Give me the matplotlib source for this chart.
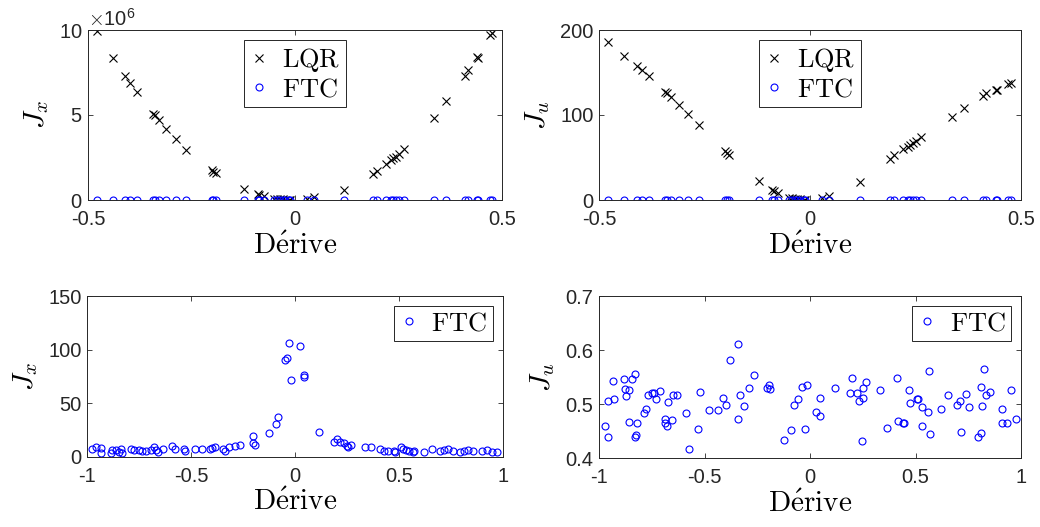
import matplotlib
matplotlib.use("Agg")
import matplotlib.pyplot as plt
from matplotlib.ticker import ScalarFormatter

plt.rcParams['font.family'] = ['Liberation Sans', 'DejaVu Sans']
plt.rcParams['mathtext.fontset'] = 'cm'

# ---- Top panels: derive values (shared) ----
derive_top = [-0.478, -0.440, -0.411, -0.399, -0.382, -0.343, -0.339, -0.329, -0.311, -0.288,
              -0.263, -0.201, -0.197, -0.192, -0.122, -0.090, -0.086, -0.076, -0.050, -0.043,
              -0.036, -0.030, -0.023, -0.015, -0.011, 0.028, 0.046, 0.118, 0.189, 0.199,
              0.220, 0.232, 0.237, 0.244, 0.252, 0.263, 0.336, 0.365, 0.411, 0.417,
              0.440, 0.442, 0.470, 0.477]
lqr_jx = [9.96e6, 8.37e6, 7.31e6, 6.90e6, 6.33e6, 5.06e6, 4.98e6, 4.70e6, 4.20e6, 3.60e6,
          2.96e6, 1.74e6, 1.67e6, 1.60e6, 0.63e6, 0.33e6, 0.29e6, 0.26e6, 0.08e6, 0.06e6,
          0.05e6, 0.03e6, 0.02e6, 0.01e6, 0.005e6, 0.04e6, 0.16e6, 0.59e6, 1.53e6, 1.72e6,
          2.12e6, 2.35e6, 2.45e6, 2.55e6, 2.70e6, 3.00e6, 4.84e6, 5.82e6, 7.27e6, 7.65e6,
          8.39e6, 8.33e6, 9.70e6, 9.84e6]
lqr_ju = [186, 170, 158, 153, 146, 127, 126, 121, 112, 101,
          88.6, 57.3, 55, 53, 22.7, 11.8, 10.5, 8.6, 2.4, 2.0,
          1.5, 1.2, 0.8, 0.5, 0.3, 2.0, 4.7, 20.8, 48.6, 53,
          59.6, 62.7, 64.5, 66.7, 69, 73.8, 97.6, 108.6, 122, 125.5,
          129.4, 129.0, 137, 137.5]
ftc_jx_top = [0, 0, 0, 0, 0, 0, 0, 0, 0, 0, 0, 0, 0, 0, 0, 0, 0, 0, 0, 0, 0, 0,
              0, 0, 0, 0, 0, 0, 0, 0, 0, 0, 0, 0, 0, 0, 0, 0, 0, 0, 0, 0, 0, 0]
ftc_ju_top = [0, 0, 0, 0, 0, 0, 0, 0, 0, 0, 0, 0, 0, 0, 0, 0, 0, 0, 0, 0, 0, 0,
              0, 0, 0, 0, 0, 0, 0, 0, 0, 0, 0, 0, 0, 0, 0, 0, 0, 0, 0, 0, 0, 0]

# ---- Bottom-left: FTC Jx ----
derive_bl = [-0.974, -0.957, -0.935, -0.934, -0.883, -0.878, -0.862, -0.846, -0.838, -0.830,
             -0.790, -0.774, -0.750, -0.734, -0.715, -0.692, -0.678, -0.670, -0.657, -0.635,
             -0.593, -0.578, -0.535, -0.529, -0.482, -0.446, -0.410, -0.398, -0.386, -0.345,
             -0.338, -0.317, -0.288, -0.264, -0.204, -0.201, -0.192, -0.123, -0.093, -0.083,
             -0.048, -0.037, -0.030, -0.017, 0.026, 0.043, 0.043, 0.117, 0.188, 0.204,
             0.217, 0.234, 0.248, 0.253, 0.267, 0.337, 0.365, 0.410, 0.429, 0.449,
             0.475, 0.483, 0.510, 0.518, 0.534, 0.550, 0.566, 0.574, 0.622, 0.657,
             0.699, 0.715, 0.737, 0.758, 0.795, 0.814, 0.830, 0.854, 0.900, 0.924,
             0.948, 0.972]
ftc_jx = [7.2, 9.0, 8.1, 4.0, 4.0, 6.5, 6.5, 5.0, 7.2, 3.4,
          7.2, 6.5, 6.5, 5.9, 5.9, 6.5, 9.0, 6.5, 5.0, 7.2,
          10.2, 7.8, 7.2, 5.3, 7.2, 7.2, 7.2, 8.1, 9.0, 7.2,
          5.3, 9.6, 10.2, 10.9, 19.6, 13.3, 10.9, 22.1, 30.4, 37.6,
          90.4, 92.5, 106.5, 71.7, 103.7, 76.4, 74.3, 23.0, 13.7, 16.8,
          13.7, 12.7, 10.5, 9.6, 11.5, 9.0, 9.0, 7.2, 5.9, 5.9,
          5.9, 4.7, 9.6, 7.2, 6.5, 5.6, 4.7, 5.3, 5.0, 7.2,
          5.6, 6.5, 7.5, 5.3, 4.4, 5.9, 6.5, 5.9, 5.6, 6.5,
          5.0, 4.4]

# ---- Bottom-right: FTC Ju ----
derive_br = [-0.972, -0.956, -0.959, -0.932, -0.929, -0.880, -0.875, -0.874, -0.858, -0.856,
             -0.845, -0.828, -0.829, -0.825, -0.818, -0.787, -0.776, -0.766, -0.749, -0.739,
             -0.728, -0.711, -0.689, -0.687, -0.676, -0.673, -0.654, -0.648, -0.632, -0.588,
             -0.573, -0.529, -0.521, -0.477, -0.436, -0.412, -0.400, -0.381, -0.341, -0.341,
             -0.330, -0.313, -0.289, -0.264, -0.205, -0.194, -0.188, -0.123, -0.091, -0.076,
             -0.055, -0.039, -0.013, -0.024, 0.027, 0.046, 0.047, 0.117, 0.190, 0.201,
             0.221, 0.234, 0.246, 0.250, 0.253, 0.265, 0.332, 0.366, 0.411, 0.417,
             0.439, 0.444, 0.471, 0.474, 0.506, 0.513, 0.529, 0.529, 0.561, 0.564,
             0.569, 0.619, 0.653, 0.695, 0.712, 0.716, 0.738, 0.755, 0.795, 0.810,
             0.812, 0.817, 0.825, 0.836, 0.855, 0.909, 0.911, 0.934, 0.953, 0.976]
ftc_ju = [0.459, 0.439, 0.506, 0.543, 0.510, 0.547, 0.528, 0.515, 0.526, 0.467,
          0.547, 0.555, 0.439, 0.442, 0.465, 0.483, 0.491, 0.517, 0.520, 0.520,
          0.510, 0.525, 0.473, 0.465, 0.460, 0.504, 0.470, 0.516, 0.516, 0.484,
          0.416, 0.453, 0.523, 0.489, 0.489, 0.511, 0.499, 0.581, 0.611, 0.473,
          0.517, 0.497, 0.530, 0.553, 0.530, 0.535, 0.528, 0.433, 0.452, 0.498,
          0.509, 0.532, 0.536, 0.453, 0.485, 0.478, 0.512, 0.530, 0.520, 0.548,
          0.520, 0.505, 0.432, 0.530, 0.511, 0.540, 0.526, 0.455, 0.549, 0.468,
          0.465, 0.465, 0.526, 0.502, 0.509, 0.509, 0.495, 0.460, 0.485, 0.562,
          0.444, 0.491, 0.517, 0.499, 0.505, 0.448, 0.519, 0.494, 0.439, 0.447,
          0.531, 0.496, 0.564, 0.517, 0.523, 0.490, 0.465, 0.464, 0.526, 0.473]

AX_COLOR = '#262626'
TICK_FS = 14.5
XLABEL_FS = 21
YLABEL_FS = 21
LEG_FS = 19

fig = plt.figure(figsize=(10.4, 5.27), dpi=100)
W, H = 1040, 527

def make_ax(x0, x1, y0, y1):
    return fig.add_axes([x0 / W, (H - y1) / H, (x1 - x0) / W, (y1 - y0) / H])

ax1 = make_ax(88, 502, 30, 200)
ax2 = make_ax(599, 1021, 30, 200)
ax3 = make_ax(87, 503, 296, 457)
ax4 = make_ax(599, 1021, 296, 458)

def style(ax):
    for s in ax.spines.values():
        s.set_color(AX_COLOR)
        s.set_linewidth(0.7)
    ax.tick_params(direction='in', length=3.5, width=0.6, colors=AX_COLOR,
                   labelsize=TICK_FS, top=True, right=True)
    ax.tick_params(axis='x', pad=7)
    ax.tick_params(axis='y', pad=4)

cross_kw = dict(ls='none', marker='x', color='black', ms=6, mew=0.8)
circ_kw = dict(ls='none', marker='o', mfc='none', mec='blue', ms=5, mew=0.8)

def legend(ax, loc, anchor):
    leg = ax.legend(loc=loc, bbox_to_anchor=anchor, fontsize=LEG_FS, frameon=True,
                    fancybox=False, framealpha=1, edgecolor=AX_COLOR,
                    handlelength=0.7, handletextpad=0.5, borderpad=0.22,
                    labelspacing=0.12, borderaxespad=0.0)
    leg.get_frame().set_linewidth(0.7)
    return leg

def xlab(ax):
    ax.set_xlabel(r'$\mathrm{D\acute{e}rive}$', fontsize=XLABEL_FS, labelpad=2)

# Top-left
ax1.plot(derive_top, lqr_jx, label=r'$\mathrm{LQR}$', **cross_kw)
ax1.plot(derive_top, ftc_jx_top, label=r'$\mathrm{FTC}$', **circ_kw)
ax1.set_xlim(-0.5, 0.5)
ax1.set_ylim(0, 1e7)
ax1.set_xticks([-0.5, 0, 0.5])
ax1.set_xticklabels(['-0.5', '0', '0.5'])
ax1.set_yticks([0, 5e6, 1e7])
fmt = ScalarFormatter(useMathText=True)
fmt.set_powerlimits((6, 6))
ax1.yaxis.set_major_formatter(fmt)
ax1.yaxis.get_offset_text().set_fontsize(TICK_FS)
ax1.yaxis.get_offset_text().set_color(AX_COLOR)
xlab(ax1)
ax1.set_ylabel(r'$J_x$', fontsize=YLABEL_FS, labelpad=6)
legend(ax1, 'upper center', (0.5, 0.94))
style(ax1)

# Top-right
ax2.plot(derive_top, lqr_ju, label=r'$\mathrm{LQR}$', **cross_kw)
ax2.plot(derive_top, ftc_ju_top, label=r'$\mathrm{FTC}$', **circ_kw)
ax2.set_xlim(-0.5, 0.5)
ax2.set_ylim(0, 200)
ax2.set_xticks([-0.5, 0, 0.5])
ax2.set_xticklabels(['-0.5', '0', '0.5'])
ax2.set_yticks([0, 100, 200])
xlab(ax2)
ax2.set_ylabel(r'$J_u$', fontsize=YLABEL_FS, labelpad=6)
legend(ax2, 'upper center', (0.5, 0.94))
style(ax2)

# Bottom-left
ax3.plot(derive_bl, ftc_jx, label=r'$\mathrm{FTC}$', **circ_kw)
ax3.set_xlim(-1, 1)
ax3.set_ylim(0, 150)
ax3.set_xticks([-1, -0.5, 0, 0.5, 1])
ax3.set_xticklabels(['-1', '-0.5', '0', '0.5', '1'])
ax3.set_yticks([0, 50, 100, 150])
xlab(ax3)
ax3.set_ylabel(r'$J_x$', fontsize=YLABEL_FS, labelpad=6)
legend(ax3, 'upper right', (0.975, 0.94))
style(ax3)

# Bottom-right
ax4.plot(derive_br, ftc_ju, label=r'$\mathrm{FTC}$', **circ_kw)
ax4.set_xlim(-1, 1)
ax4.set_ylim(0.4, 0.7)
ax4.set_xticks([-1, -0.5, 0, 0.5, 1])
ax4.set_xticklabels(['-1', '-0.5', '0', '0.5', '1'])
ax4.set_yticks([0.4, 0.5, 0.6, 0.7])
ax4.set_yticklabels(['0.4', '0.5', '0.6', '0.7'])
xlab(ax4)
ax4.set_ylabel(r'$J_u$', fontsize=YLABEL_FS, labelpad=6)
legend(ax4, 'upper right', (0.977, 0.94))
style(ax4)

fig.savefig('out.png', dpi=100, facecolor='white')
